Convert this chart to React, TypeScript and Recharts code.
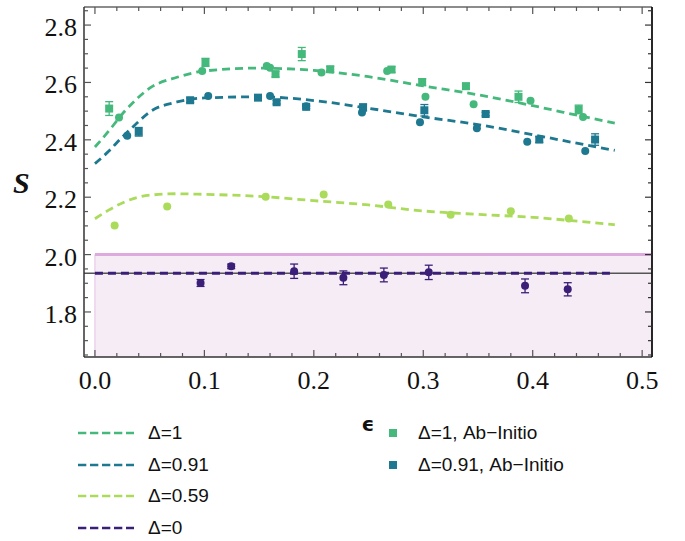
import {
  ComposedChart, Line, Scatter, XAxis, YAxis, ErrorBar,
  ReferenceArea, ReferenceLine, Legend, Label,
} from 'recharts'

// dashed model curves
const curveEps = [0, 0.0125, 0.025, 0.0375, 0.05, 0.075, 0.1, 0.15, 0.2, 0.25, 0.3, 0.35, 0.4, 0.45, 0.475]
const curveDelta1 = [2.375, 2.43, 2.49, 2.54, 2.58, 2.618, 2.64, 2.65, 2.642, 2.62, 2.588, 2.557, 2.519, 2.478, 2.458]
const curveDelta091 = [2.317, 2.36, 2.41, 2.455, 2.497, 2.532, 2.546, 2.55, 2.537, 2.51, 2.48, 2.453, 2.418, 2.381, 2.363]
const curveDelta059 = [2.125, 2.155, 2.18, 2.198, 2.207, 2.212, 2.21, 2.203, 2.188, 2.173, 2.152, 2.14, 2.13, 2.113, 2.104]
const flatEps = [0, 0.475]
const curveDelta0 = [1.935, 1.935]

// simulation points (circles)
const d1Eps = [0.022, 0.098, 0.157, 0.16, 0.207, 0.267, 0.302, 0.346, 0.398, 0.446]
const d1S = [2.478, 2.64, 2.657, 2.651, 2.635, 2.64, 2.55, 2.524, 2.536, 2.48]
const d091Eps = [0.0295, 0.1035, 0.16, 0.193, 0.244, 0.297, 0.349, 0.395, 0.448]
const d091S = [2.414, 2.553, 2.553, 2.517, 2.495, 2.461, 2.44, 2.393, 2.361]
const d059Eps = [0.018, 0.066, 0.156, 0.209, 0.268, 0.325, 0.38, 0.433]
const d059S = [2.101, 2.168, 2.202, 2.209, 2.175, 2.139, 2.151, 2.126]
const d0Eps = [0.0965, 0.1245, 0.182, 0.227, 0.264, 0.305, 0.393, 0.432]
const d0S = [1.901, 1.959, 1.942, 1.919, 1.929, 1.938, 1.891, 1.879]
const d0Err = [0.012, 0.008, 0.025, 0.024, 0.024, 0.025, 0.024, 0.023]

// ab-initio points (squares)
const ab1Eps = [0.013, 0.101, 0.165, 0.189, 0.215, 0.271, 0.299, 0.339, 0.387, 0.442]
const ab1S = [2.509, 2.67, 2.629, 2.699, 2.646, 2.645, 2.601, 2.587, 2.55, 2.506]
const ab1Err = [0.024, 0.014, 0.01, 0.023, 0.01, 0.01, 0.012, 0.01, 0.02, 0.015]
const ab091Eps = [0.04, 0.087, 0.149, 0.166, 0.193, 0.245, 0.301, 0.357, 0.406, 0.457]
const ab091S = [2.428, 2.538, 2.547, 2.531, 2.515, 2.513, 2.503, 2.49, 2.401, 2.401]
const ab091Err = [0.015, 0.008, 0.006, 0.006, 0.006, 0.012, 0.02, 0.006, 0.01, 0.02]

const xTicks = [0, 0.02, 0.04, 0.06, 0.08, 0.1, 0.12, 0.14, 0.16, 0.18, 0.2, 0.22, 0.24, 0.26, 0.28, 0.3, 0.32, 0.34, 0.36, 0.38, 0.4, 0.42, 0.44, 0.46, 0.48, 0.5]
const xMajor = [0, 0.1, 0.2, 0.3, 0.4, 0.5]
const yTicks = [1.65, 1.7, 1.75, 1.8, 1.85, 1.9, 1.95, 2.0, 2.05, 2.1, 2.15, 2.2, 2.25, 2.3, 2.35, 2.4, 2.45, 2.5, 2.55, 2.6, 2.65, 2.7, 2.75, 2.8, 2.85]
const yMajor = [1.8, 2.0, 2.2, 2.4, 2.6, 2.8]

const C1 = '#45b97c'
const C091 = '#1d7890'
const C059 = '#aadb5a'
const C0 = '#3b1e78'

const toPts = (xs: number[], ys: number[], errs?: number[]) =>
  xs.map((x, i) => ({ x, y: ys[i], err: errs ? errs[i] : 0 }))

const lineSeries = [
  { name: 'Δ=1', color: C1, data: toPts(curveEps, curveDelta1) },
  { name: 'Δ=0.91', color: C091, data: toPts(curveEps, curveDelta091) },
  { name: 'Δ=0.59', color: C059, data: toPts(curveEps, curveDelta059) },
  { name: 'Δ=0', color: C0, data: toPts(flatEps, curveDelta0) },
]
const squareLegend = [
  { name: 'Δ=1, Ab\u2212Initio', color: C1 },
  { name: 'Δ=0.91, Ab\u2212Initio', color: C091 },
]

const tickColor = '#555'
const frameColor = '#333'
const serif = '"Liberation Serif", "Times New Roman", serif'
const sans = '"Liberation Sans", Arial, sans-serif'
const near = (v: number, arr: number[]) => arr.some((m) => Math.abs(m - v) < 1e-6)

const BottomTick = ({ x, y, payload }: any) => {
  const major = near(payload.value, xMajor)
  return (
    <g>
      <line x1={x} x2={x} y1={y} y2={y - (major ? 7 : 4)} stroke={tickColor} strokeWidth={1.2} />
      {major && (
        <text x={x} y={y + 32} textAnchor="middle" fontFamily={serif} fontSize={26} fill="#111">
          {payload.value.toFixed(1)}
        </text>
      )}
    </g>
  )
}
const TopTick = ({ x, y, payload }: any) => (
  <line x1={x} x2={x} y1={y} y2={y + (near(payload.value, xMajor) ? 7 : 4)} stroke={tickColor} strokeWidth={1.2} />
)
const LeftTick = ({ x, y, payload }: any) => {
  const major = near(payload.value, yMajor)
  return (
    <g>
      <line x1={x} x2={x + (major ? 7 : 4)} y1={y} y2={y} stroke={tickColor} strokeWidth={1.2} />
      {major && (
        <text x={x - 7} y={y + 11} textAnchor="end" fontFamily={serif} fontSize={26} fill="#111">
          {payload.value.toFixed(1)}
        </text>
      )}
    </g>
  )
}
const RightTick = ({ x, y, payload }: any) => (
  <line x1={x} x2={x - (near(payload.value, yMajor) ? 7 : 4)} y1={y} y2={y} stroke={frameColor} strokeWidth={1.2} />
)

const circle = (color: string) => (p: any) => <circle cx={p.cx} cy={p.cy} r={4} fill={color} />
const square = (color: string) => (p: any) => <rect x={p.cx - 4} y={p.cy - 4} width={8} height={8} fill={color} />

const renderLegend = () => (
  <div style={{ position: 'relative', width: 685, height: 141, fontFamily: sans, fontSize: 19, color: '#111' }}>
    {lineSeries.map((s, i) => (
      <div key={s.name} style={{ position: 'absolute', left: 78, top: 21 + i * 31.7, height: 24, display: 'flex', alignItems: 'center' }}>
        <svg width={56} height={6}>
          <line x1={0} x2={56} y1={3} y2={3} stroke={s.color} strokeWidth={2.6} strokeDasharray="8.3 3.7" />
        </svg>
        <span style={{ marginLeft: 14, whiteSpace: 'nowrap' }}>{s.name}</span>
      </div>
    ))}
    {squareLegend.map((s, i) => (
      <div key={s.name} style={{ position: 'absolute', left: 389, top: 21 + i * 31.7, height: 24, display: 'flex', alignItems: 'center' }}>
        <div style={{ width: 8, height: 8, background: s.color }} />
        <span style={{ marginLeft: 21, whiteSpace: 'nowrap' }}>{s.name}</span>
      </div>
    ))}
  </div>
)

const xDomain = [-0.01, 0.509]
const yDomain = [1.643, 2.863]

export default function App() {
  return (
    <div style={{ position: 'absolute', left: 0, top: 0, width: 685, height: 541, background: '#fff' }}>
      <ComposedChart width={685} height={541} margin={{ top: 6, right: 32, left: 0, bottom: 144 }}>
        <XAxis
          dataKey="x" type="number" domain={xDomain} allowDataOverflow ticks={xTicks} interval={0}
          height={40} tickSize={0} tickMargin={0} tick={BottomTick}
          axisLine={{ stroke: frameColor, strokeWidth: 1.5 }}
        >
          <Label value="ϵ" position="bottom" offset={20}
            style={{ fontFamily: '"DejaVu Sans", sans-serif', fontWeight: 'bold', fontSize: 20, fill: '#111' }} />
        </XAxis>
        <XAxis
          xAxisId="top" orientation="top" dataKey="x" type="number" domain={xDomain} allowDataOverflow
          ticks={xTicks} interval={0} height={1} tickSize={0} tickMargin={0} tick={TopTick}
          axisLine={{ stroke: '#666', strokeWidth: 1.5 }}
        />
        <YAxis
          type="number" domain={yDomain} allowDataOverflow ticks={yTicks} interval={0}
          width={84} tickSize={0} tickMargin={0} tick={LeftTick}
          axisLine={{ stroke: frameColor, strokeWidth: 1.5 }}
        >
          <Label value="S" position="insideLeft" offset={13}
            style={{ fontFamily: serif, fontWeight: 'bold', fontStyle: 'italic', fontSize: 30, fill: '#111' }} />
        </YAxis>
        <YAxis
          yAxisId="right" orientation="right" type="number" domain={yDomain} allowDataOverflow
          ticks={yTicks} interval={0} width={1} tickSize={0} tickMargin={0} tick={RightTick}
          axisLine={{ stroke: '#111', strokeWidth: 1.8 }}
        />

        <ReferenceArea x1={0} x2={0.509} y1={1.643} y2={2.0} fill="#f6ecf6" fillOpacity={1} stroke="none" />
        <ReferenceLine segment={[{ x: 0, y: 1.643 }, { x: 0, y: 2.0 }]} stroke="#ecd3ed" strokeWidth={1.5} />
        <ReferenceLine segment={[{ x: 0, y: 2.0 }, { x: 0.509, y: 2.0 }]} stroke="#dcaade" strokeWidth={3} />
        <ReferenceLine y={1.935} stroke="#555" strokeWidth={1.3} />

        {lineSeries.map((s) => (
          <Line
            key={s.name} data={s.data} dataKey="y" type="monotone" stroke={s.color}
            strokeWidth={2.8} strokeDasharray="8 5" dot={false} isAnimationActive={false}
          />
        ))}

        <Scatter data={toPts(d059Eps, d059S)} dataKey="y" shape={circle(C059)} isAnimationActive={false} />
        <Scatter data={toPts(d091Eps, d091S)} dataKey="y" shape={circle(C091)} isAnimationActive={false} />
        <Scatter data={toPts(d1Eps, d1S)} dataKey="y" shape={circle(C1)} isAnimationActive={false} />
        <Scatter data={toPts(ab091Eps, ab091S, ab091Err)} dataKey="y" shape={square(C091)} isAnimationActive={false}>
          <ErrorBar dataKey="err" direction="y" width={4} stroke={C091} strokeWidth={1.3} />
        </Scatter>
        <Scatter data={toPts(ab1Eps, ab1S, ab1Err)} dataKey="y" shape={square(C1)} isAnimationActive={false}>
          <ErrorBar dataKey="err" direction="y" width={4} stroke={C1} strokeWidth={1.3} />
        </Scatter>
        <Scatter data={toPts(d0Eps, d0S, d0Err)} dataKey="y" shape={circle(C0)} isAnimationActive={false}>
          <ErrorBar dataKey="err" direction="y" width={4} stroke={C0} strokeWidth={1.3} />
        </Scatter>

        <Legend
          content={renderLegend} layout="horizontal" verticalAlign="middle" align="center"
          wrapperStyle={{ left: 0, top: 400, width: 685, height: 141 }}
        />
      </ComposedChart>
    </div>
  )
}
